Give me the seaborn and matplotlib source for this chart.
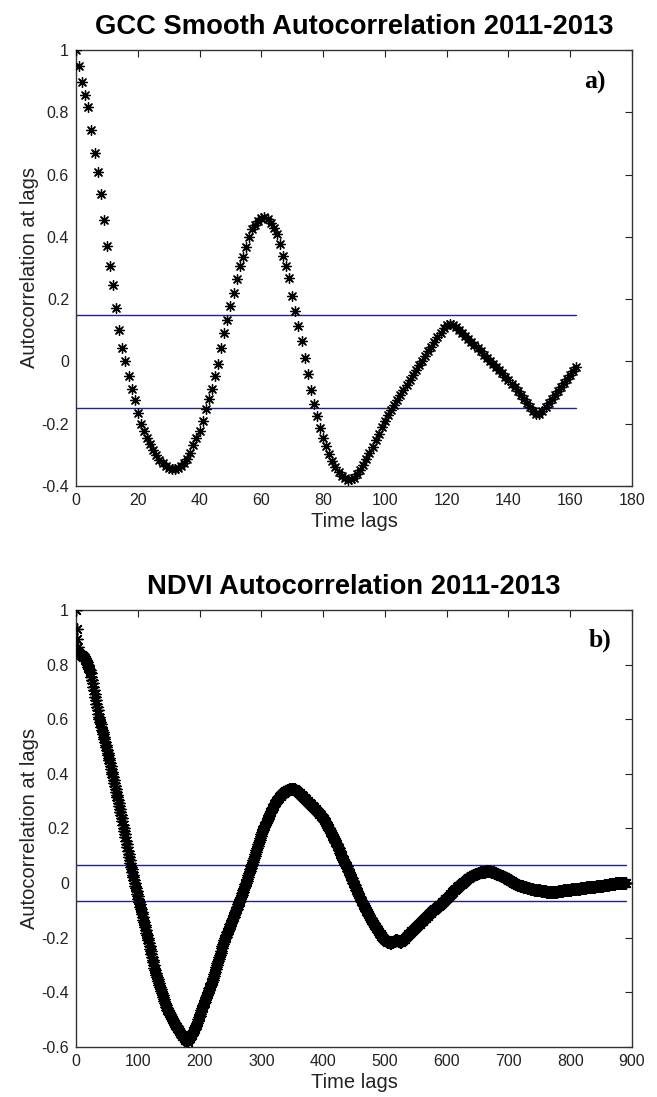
import matplotlib
matplotlib.use("Agg")
import numpy as np
import pandas as pd
import seaborn as sns
import matplotlib.pyplot as plt

# ---------------- data (autocorrelation values in thousandths) -------------
gcc_title = "GCC Smooth Autocorrelation 2011-2013"
ndvi_title = "NDVI Autocorrelation 2011-2013"

gcc_acf_milli = [
    1000, 948, 897, 857, 816, 743, 668, 608, 538, 454,
    371, 306, 244, 170, 100, 42, 0, -48, -89, -125,
    -167, -200, -222, -245, -265, -285, -302, -316, -327, -335,
    -341, -344, -345, -342, -336, -326, -312, -293, -270, -245,
    -222, -190, -152, -120, -87, -47, -8, 42, 92, 133,
    178, 219, 265, 308, 335, 367, 400, 424, 438, 452,
    461, 465, 458, 446, 430, 410, 378, 340, 306, 267,
    210, 161, 113, 67, 10, -42, -93, -136, -176, -213,
    -245, -272, -298, -320, -340, -356, -368, -376, -380, -379,
    -373, -362, -348, -332, -314, -295, -274, -252, -232, -212,
    -192, -172, -155, -139, -123, -107, -91, -75, -59, -43,
    -28, -13, 2, 17, 32, 47, 62, 77, 92, 106,
    117, 121, 118, 110, 101, 92, 82, 72, 62, 52,
    42, 32, 22, 12, 2, -8, -18, -28, -38, -49,
    -60, -71, -83, -95, -108, -121, -134, -147, -160, -170,
    -168, -158, -146, -133, -120, -108, -95, -82, -69, -56,
    -43, -30, -17,
]

ndvi_acf_milli = [
    1000, 930, 895, 864, 850, 843, 840, 838, 836, 835,
    833, 831, 829, 826, 823, 819, 815, 809, 803, 797,
    791, 785, 779, 774, 768, 756, 743, 731, 718, 706,
    694, 681, 669, 657, 645, 632, 620, 608, 599, 590,
    581, 572, 562, 553, 544, 535, 526, 516, 507, 497,
    488, 478, 469, 459, 450, 440, 429, 419, 408, 398,
    387, 377, 366, 356, 345, 335, 324, 314, 303, 293,
    282, 272, 261, 249, 237, 226, 214, 202, 190, 178,
    167, 155, 143, 131, 119, 107, 95, 84, 72, 60,
    50, 40, 31, 21, 11, 1, -9, -19, -29, -39,
    -48, -58, -68, -77, -87, -96, -106, -115, -125, -134,
    -143, -153, -162, -172, -181, -191, -200, -210, -220, -230,
    -240, -250, -260, -270, -280, -290, -300, -310, -320, -330,
    -337, -345, -352, -359, -367, -374, -381, -389, -396, -403,
    -411, -418, -425, -433, -440, -447, -455, -459, -464, -468,
    -472, -477, -481, -486, -490, -494, -499, -503, -508, -512,
    -516, -521, -525, -528, -532, -535, -538, -541, -545, -548,
    -551, -555, -558, -561, -565, -568, -570, -573, -575, -577,
    -579, -580, -576, -572, -568, -563, -559, -555, -551, -546,
    -542, -538, -534, -529, -525, -518, -512, -505, -499, -492,
    -485, -479, -472, -465, -459, -452, -446, -440, -434, -428,
    -422, -416, -410, -404, -397, -391, -385, -379, -373, -367,
    -361, -355, -347, -340, -332, -324, -316, -309, -301, -293,
    -286, -278, -270, -262, -255, -247, -239, -231, -224, -216,
    -208, -202, -197, -191, -185, -180, -174, -168, -163, -157,
    -151, -145, -140, -134, -128, -123, -117, -111, -106, -100,
    -94, -88, -83, -77, -71, -66, -59, -52, -45, -38,
    -32, -25, -18, -11, -4, 2, 9, 16, 23, 30,
    36, 43, 50, 57, 64, 71, 78, 86, 93, 100,
    107, 114, 122, 129, 136, 143, 150, 158, 165, 172,
    179, 187, 194, 199, 204, 209, 214, 219, 224, 229,
    234, 240, 245, 250, 255, 260, 265, 270, 275, 280,
    284, 288, 292, 296, 299, 303, 306, 309, 312, 315,
    318, 320, 323, 325, 327, 329, 331, 333, 335, 336,
    338, 339, 340, 341, 342, 343, 344, 344, 345, 345,
    345, 345, 344, 344, 343, 342, 340, 338, 336, 334,
    332, 330, 328, 326, 324, 322, 320, 317, 315, 313,
    311, 309, 307, 304, 302, 300, 298, 295, 293, 291,
    288, 286, 284, 281, 279, 277, 274, 272, 270, 267,
    265, 262, 260, 257, 254, 252, 249, 246, 243, 240,
    237, 234, 230, 226, 222, 218, 214, 210, 206, 201,
    197, 192, 188, 183, 179, 174, 170, 165, 160, 156,
    151, 147, 142, 137, 132, 127, 121, 116, 110, 104,
    98, 92, 86, 82, 78, 74, 69, 65, 61, 56,
    50, 45, 40, 34, 29, 24, 18, 13, 8, 2,
    -3, -8, -14, -19, -24, -30, -35, -40, -46, -51,
    -56, -62, -67, -71, -75, -80, -84, -88, -92, -96,
    -101, -105, -109, -113, -117, -122, -126, -130, -134, -138,
    -143, -147, -150, -154, -157, -161, -164, -168, -171, -175,
    -178, -181, -185, -188, -192, -195, -199, -202, -204, -206,
    -208, -210, -211, -213, -214, -215, -216, -217, -217, -218,
    -218, -217, -216, -215, -213, -212, -211, -210, -210, -210,
    -210, -211, -212, -213, -214, -214, -214, -213, -212, -210,
    -208, -206, -203, -200, -197, -194, -192, -190, -187, -185,
    -183, -181, -179, -177, -174, -172, -170, -168, -166, -164,
    -161, -159, -157, -155, -152, -150, -148, -146, -144, -141,
    -139, -137, -135, -132, -130, -128, -126, -123, -121, -119,
    -117, -115, -112, -110, -108, -106, -104, -102, -100, -98,
    -96, -94, -92, -90, -88, -87, -85, -83, -81, -79,
    -77, -75, -73, -71, -69, -67, -65, -62, -60, -58,
    -55, -53, -51, -48, -46, -44, -41, -39, -37, -34,
    -32, -30, -27, -25, -23, -20, -18, -16, -14, -12,
    -10, -8, -6, -4, -3, -1, 1, 3, 5, 7,
    9, 11, 13, 15, 17, 18, 20, 22, 24, 25,
    26, 27, 28, 29, 30, 31, 32, 33, 34, 35,
    36, 37, 37, 38, 39, 39, 40, 40, 41, 41,
    42, 42, 42, 43, 43, 43, 43, 43, 43, 43,
    43, 42, 42, 41, 41, 40, 39, 38, 37, 36,
    35, 34, 33, 32, 31, 30, 29, 28, 27, 26,
    26, 25, 24, 23, 21, 20, 18, 17, 16, 14,
    13, 12, 10, 9, 8, 6, 5, 4, 2, 1,
    0, -2, -3, -4, -6, -7, -7, -8, -9, -9,
    -10, -11, -11, -12, -13, -13, -14, -15, -15, -16,
    -17, -17, -18, -19, -19, -20, -21, -21, -22, -23,
    -23, -24, -24, -25, -25, -25, -26, -26, -26, -27,
    -27, -27, -28, -28, -28, -29, -29, -29, -30, -30,
    -30, -31, -31, -31, -32, -32, -32, -33, -33, -33,
    -33, -33, -33, -33, -32, -32, -32, -31, -31, -31,
    -30, -30, -30, -29, -29, -29, -28, -28, -28, -27,
    -27, -27, -26, -26, -26, -25, -25, -25, -24, -24,
    -24, -24, -23, -23, -23, -22, -22, -22, -22, -21,
    -21, -21, -20, -20, -20, -20, -19, -19, -19, -18,
    -18, -18, -18, -17, -17, -17, -16, -16, -16, -16,
    -15, -15, -15, -14, -14, -14, -14, -13, -13, -13,
    -13, -12, -12, -12, -12, -11, -11, -11, -10, -10,
    -10, -9, -9, -9, -8, -8, -8, -7, -7, -7,
    -6, -6, -6, -5, -5, -4, -4, -4, -3, -3,
    -3, -2, -2, -1, -1, -1, 0, 0, 0, 1,
    1, 1, 1, 1, 0, 0, 0, 0, 0, 0,
    0,
]

gcc_bound = 0.15     # confidence bound (+/-)
ndvi_bound = 0.066

gcc_xticks = [0, 20, 40, 60, 80, 100, 120, 140, 160, 180]
gcc_yticks = [-0.4, -0.2, 0, 0.2, 0.4, 0.6, 0.8, 1]
gcc_yticklabels = ["-0.4", "-0.2", "0", "0.2", "0.4", "0.6", "0.8", "1"]
ndvi_xticks = [0, 100, 200, 300, 400, 500, 600, 700, 800, 900]
ndvi_yticks = [-0.6, -0.4, -0.2, 0, 0.2, 0.4, 0.6, 0.8, 1]
ndvi_yticklabels = ["-0.6", "-0.4", "-0.2", "0", "0.2", "0.4", "0.6", "0.8", "1"]

# ---------------- styling -------------
sns.set_style("white")
plt.rcParams["font.family"] = ["Liberation Sans", "DejaVu Sans"]
plt.rcParams["axes.unicode_minus"] = False

BOUND_COLOR = "#22228a"
STAR = (8, 2, 0)

fig = plt.figure(figsize=(6.57, 10.97), dpi=100)
ax1 = fig.add_axes([0.1157, 0.557, 0.8463, 0.3974])
ax2 = fig.add_axes([0.1157, 0.0456, 0.8463, 0.3984])


def panel(ax, values_milli, bound, title, letter, letter_xy, xlim, ylim,
          xticks, yticks, yticklabels, msize, mlw):
    acf = np.array(values_milli) / 1000.0
    df = pd.DataFrame({"lag": np.arange(len(acf)), "acf": acf})
    sns.scatterplot(data=df, x="lag", y="acf", marker=STAR, s=msize,
                    color="black", linewidth=mlw, ax=ax, legend=False,
                    zorder=3)
    bx = [df["lag"].iloc[0], df["lag"].iloc[-1]]
    sns.lineplot(x=bx, y=[bound, bound], color=BOUND_COLOR, lw=1.0, ax=ax,
                 zorder=2)
    sns.lineplot(x=bx, y=[-bound, -bound], color=BOUND_COLOR, lw=1.0, ax=ax,
                 zorder=2)
    ax.set_xlim(*xlim)
    ax.set_ylim(*ylim)
    ax.set_xticks(xticks)
    ax.set_xticklabels([str(t) for t in xticks])
    ax.set_yticks(yticks)
    ax.set_yticklabels(yticklabels)
    ax.tick_params(direction="in", top=True, right=True, length=5, width=0.8,
                   labelsize=11.5, pad=5, colors="#222222")
    for sp in ax.spines.values():
        sp.set_visible(True)
        sp.set_color("#333333")
        sp.set_linewidth(1.0)
    ax.set_title(title, fontsize=19.7, fontweight="bold", pad=11.5,
                 color="black")
    ax.set_xlabel("Time lags", fontsize=14.5, color="#222222", labelpad=3)
    ax.set_ylabel("Autocorrelation at lags", fontsize=14.5, color="#222222",
                  labelpad=2)
    ax.text(letter_xy[0], letter_xy[1], letter, transform=ax.transAxes,
            ha="center", va="center", fontsize=18.5, fontweight="bold",
            family=["Liberation Serif", "DejaVu Serif"], color="black")


panel(ax1, gcc_acf_milli, gcc_bound, gcc_title, "a)", (0.933, 0.925),
      (0, 180), (-0.4, 1), gcc_xticks, gcc_yticks, gcc_yticklabels, 50, 0.95)
panel(ax2, ndvi_acf_milli, ndvi_bound, ndvi_title, "b)", (0.942, 0.931),
      (0, 900), (-0.6, 1), ndvi_xticks, ndvi_yticks, ndvi_yticklabels, 64, 1.05)

fig.savefig("out.png", dpi=100)
